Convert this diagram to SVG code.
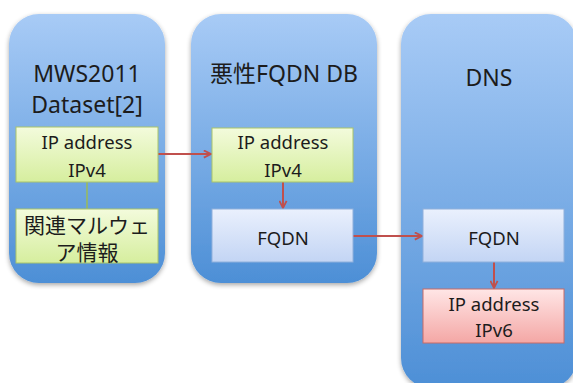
<svg xmlns="http://www.w3.org/2000/svg" width="573" height="383" viewBox="0 0 573 383">
  <style>
    text { font-family: "Noto Sans", "Noto Sans CJK JP", sans-serif; fill: #1c1c1c; text-anchor: middle; }
    .title { font-size: 23px; }
    .label { font-size: 18.5px; }
    .cjk { font-size: 21px; }
    .container { fill: url(#gBlue); filter: url(#shadow); }
    .green { fill: url(#gGreen); stroke: #a9c46a; stroke-width: 1; }
    .blue { fill: url(#gLight); stroke: #8fb0dc; stroke-width: 1; }
    .red { fill: url(#gRed); stroke: #c86a66; stroke-width: 1; }
    .arrow { stroke: #c0504d; stroke-width: 2; fill: none; marker-end: url(#head); }
    .link { stroke: #9bbb59; stroke-width: 1.5; fill: none; }
  </style>
  <defs>
    <linearGradient id="gBlue" x1="0" y1="0" x2="0" y2="1">
      <stop offset="0" stop-color="#a8cbf6"/>
      <stop offset="1" stop-color="#4d8fd6"/>
    </linearGradient>
    <linearGradient id="gGreen" x1="0" y1="0" x2="0" y2="1">
      <stop offset="0" stop-color="#f3fbdc"/>
      <stop offset="1" stop-color="#d6ee9e"/>
    </linearGradient>
    <linearGradient id="gLight" x1="0" y1="0" x2="0" y2="1">
      <stop offset="0" stop-color="#eaf0fd"/>
      <stop offset="1" stop-color="#c3d5f4"/>
    </linearGradient>
    <linearGradient id="gRed" x1="0" y1="0" x2="0" y2="1">
      <stop offset="0" stop-color="#ffe6e6"/>
      <stop offset="1" stop-color="#f4a7a5"/>
    </linearGradient>
    <filter id="shadow" x="-10%" y="-10%" width="120%" height="120%">
      <feGaussianBlur in="SourceAlpha" stdDeviation="2.5"/>
      <feOffset dx="0" dy="1.5" result="b"/>
      <feComponentTransfer><feFuncA type="linear" slope="0.35"/></feComponentTransfer>
      <feMerge><feMergeNode/><feMergeNode in="SourceGraphic"/></feMerge>
    </filter>
    <marker id="head" viewBox="0 0 10 10" refX="9" refY="5" markerWidth="4.5" markerHeight="4.5" orient="auto">
      <path d="M1,1 L9,5 L1,9" fill="none" stroke="#c0504d" stroke-width="2"/>
    </marker>
  </defs>

  <!-- containers -->
  <g id="mws">
    <rect class="container" x="9" y="14" width="156" height="269" rx="30"/>
    <text class="title" x="87" y="82">MWS2011</text>
    <text class="title" x="87" y="113">Dataset[2]</text>
  </g>
  <g id="fqdn-db">
    <rect class="container" x="191" y="14" width="186" height="269" rx="30"/>
    <text class="title" x="284" y="82">悪性FQDN DB</text>
  </g>
  <g id="dns">
    <rect class="container" x="401" y="14" width="176" height="374" rx="30"/>
    <text class="title" x="489" y="86">DNS</text>
  </g>

  <!-- connectors -->
  <g id="connectors">
    <line class="link" x1="87" y1="182" x2="87" y2="209"/>
    <line class="arrow" x1="158" y1="154" x2="211" y2="154"/>
    <line class="arrow" x1="283" y1="182" x2="283" y2="208"/>
    <line class="arrow" x1="353" y1="236" x2="422" y2="236"/>
    <line class="arrow" x1="494" y1="262" x2="494" y2="288"/>
  </g>

  <!-- inner nodes -->
  <g id="mws-ip">
    <rect class="green" x="16" y="127" width="142" height="55"/>
    <text class="label" x="87" y="149">IP address</text>
    <text class="label" x="87" y="177">IPv4</text>
  </g>
  <g id="mws-malware">
    <rect class="green" x="16" y="209" width="142" height="54"/>
    <text class="cjk" x="87" y="233">関連マルウェ</text>
    <text class="cjk" x="87" y="260">ア情報</text>
  </g>
  <g id="db-ip">
    <rect class="green" x="212" y="128" width="141" height="54"/>
    <text class="label" x="283" y="149">IP address</text>
    <text class="label" x="283" y="177">IPv4</text>
  </g>
  <g id="db-fqdn">
    <rect class="blue" x="212" y="209" width="141" height="53"/>
    <text class="label" x="283" y="245">FQDN</text>
  </g>
  <g id="dns-fqdn">
    <rect class="blue" x="423" y="209" width="141" height="53"/>
    <text class="label" x="494" y="245">FQDN</text>
  </g>
  <g id="dns-ipv6">
    <rect class="red" x="423" y="289" width="141" height="54"/>
    <text class="label" x="494" y="311">IP address</text>
    <text class="label" x="494" y="337">IPv6</text>
  </g>
</svg>
